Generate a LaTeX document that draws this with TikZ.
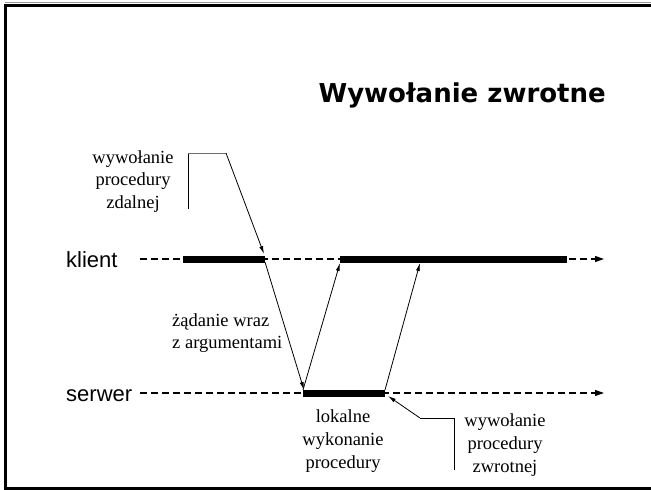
\documentclass[tikz,border=0pt]{standalone}
\usepackage{fontspec}
\setmainfont{Liberation Serif}
\setsansfont{Liberation Sans}
\newfontfamily\titlefont{DejaVu Sans Bold}
\usetikzlibrary{arrows.meta,positioning}
\definecolor{frameshade}{RGB}{150,150,150}
\definecolor{callout}{RGB}{110,110,110}

\begin{document}
\begin{tikzpicture}[x=1pt,y=1pt,
    timeline/.style={dash pattern=on 7pt off 4pt,line width=1.1pt,-{Triangle[length=9pt,width=6pt]}},
    busy/.style={line width=7pt},
    msg/.style={line width=0.8pt,-{Latex[length=8pt,width=4pt]}},
    tag/.style={font=\fontsize{18.5}{22.5}\selectfont,align=center,inner sep=0pt},
    who/.style={font=\sffamily\fontsize{22}{26}\selectfont,inner sep=0pt}]
  % page is 651 x 490, y counted downwards as negative
  \useasboundingbox (0,0) rectangle (651,-490);
  % slide frame, open on the right
  \draw[frameshade,line width=1pt] (651,-2.5) -- (4.5,-2.5);
  \draw[line width=3pt] (651,-5) -- (5.5,-5) -- (5.5,-488) -- (651,-488);

  \node[anchor=base east,font=\titlefont\fontsize{26}{30}\selectfont,inner sep=0pt]
    (title) at (606,-102) {Wywołanie zwrotne};

  % the two time lines
  \def\yK{-259}  % klient
  \def\yS{-393}  % serwer
  \node[who,anchor=base west] (klient) at (66,{\yK-8}) {klient};
  \node[who,anchor=base west] (serwer) at (66,{\yS-8}) {serwer};
  \coordinate (kStart) at (140,\yK);
  \coordinate (kEnd)   at (604,\yK);
  \coordinate (sStart) at (140,\yS);
  \coordinate (sEnd)   at (604,\yS);
  \draw[timeline] (kStart) -- (kEnd);
  \draw[timeline] (sStart) -- (sEnd);

  % active periods
  \coordinate (callK) at (183,\yK);
  \coordinate (sendK) at (265,\yK);
  \coordinate (backK) at (340,\yK);
  \coordinate (cbK)   at (420,\yK);
  \coordinate (stopK) at (567,\yK);
  \coordinate (recvS) at (303,\yS);
  \coordinate (doneS) at (385,\yS);
  \draw[busy] (callK) -- (sendK);
  \draw[busy] (backK) -- (stopK);
  \draw[busy] (recvS) -- (doneS);

  % messages
  \draw[msg] ([yshift=-3pt]sendK) -- ([xshift=1pt,yshift=3pt]recvS);
  \draw[msg] ([yshift=3pt]recvS) -- ([yshift=-4pt]backK);
  \draw[msg] ([yshift=3pt]doneS) -- ([yshift=-4pt]cbK);

  % labels
  \node[tag,anchor=north] (zdalna) at (133,-150) {wywołanie\\procedury\\zdalnej};
  \node[tag,align=left,anchor=north west] (zadanie) at (172,-313)
    {żądanie wraz\\z argumentami};
  \node[tag,anchor=north,font=\fontsize{18.5}{23}\selectfont] (lokalne) at (343,-409)
    {lokalne\\wykonanie\\procedury};
  \node[tag,anchor=north,font=\fontsize{18.5}{23}\selectfont] (zwrotna) at (505,-413)
    {wywołanie\\procedury\\zwrotnej};

  % callouts
  \coordinate (zdTop) at (188,-153);
  \coordinate (zdBot) at (188,-209);
  \coordinate (zdKnee) at (226,-153);
  \draw[line width=0.8pt] (zdTop) -- (zdBot);
  \draw[callout,line width=1pt] (zdTop) -- (zdKnee);
  \draw[msg] (zdKnee) -- ([xshift=-1pt,yshift=5pt]sendK);
  \coordinate (zwTop) at (454,-418);
  \coordinate (zwBot) at (454,-470);
  \coordinate (zwKnee) at (420,-418);
  \draw[line width=0.8pt] (zwTop) -- (zwBot);
  \draw[line width=0.8pt] (zwTop) -- (zwKnee);
  \draw[msg] (zwKnee) -- ([xshift=3pt,yshift=-3pt]doneS);
\end{tikzpicture}
\end{document}
